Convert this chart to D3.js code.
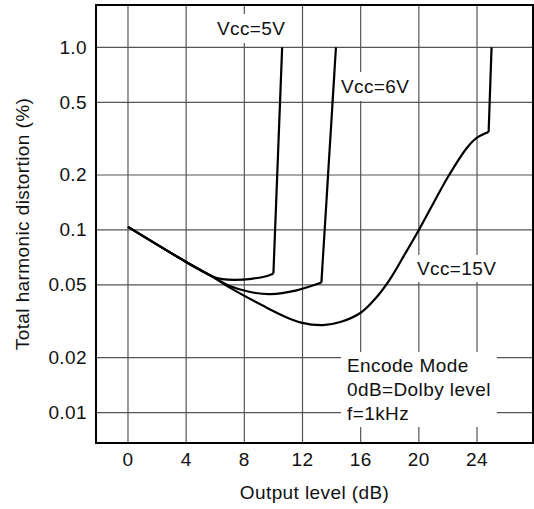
<!DOCTYPE html>
<html lang="en">
<head>
<meta charset="UTF-8">
<title>THD vs Output level</title>
<script src="https://d3js.org/d3.v7.min.js"></script>
<style>
    body { margin: 0; background: #fff; }
    text {
        font-family: "Liberation Sans", Arial, sans-serif;
        font-size: 19px;
        letter-spacing: 0.4px;
        fill: #111;
    }
    .grid { stroke: #555; stroke-width: 1.2; }
    .curve { fill: none; stroke: #000; stroke-width: 2.2; }
</style>
</head>
<body>
<svg width="534" height="509"></svg>
<script>
    // Output level (dB) ticks and THD (%) ticks
    const xTicks = [0, 4, 8, 12, 16, 20, 24];
    const yTicks = [0.01, 0.02, 0.05, 0.1, 0.2, 0.5, 1.0];
    const yTickLabels = ["0.01", "0.02", "0.05", "0.1", "0.2", "0.5", "1.0"];

    // Vcc=5V: smooth part, then the clipping rise
    const lvl5 = [0, 4, 5.8, 6.5, 7.3, 8.5, 9.5, 10.0];
    const thd5 = [0.104, 0.0668, 0.0556, 0.0538, 0.0533, 0.0540, 0.0558, 0.0578];
    const lvl5clip = [10.0, 10.6];
    const thd5clip = [0.0578, 1.0];

    // Vcc=6V
    const lvl6 = [0, 4, 5.8, 7.0, 8.4, 9.8, 11.6, 13.3];
    const thd6 = [0.104, 0.0668, 0.0556, 0.0493, 0.0457, 0.0445, 0.0467, 0.0515];
    const lvl6clip = [13.3, 14.3];
    const thd6clip = [0.0515, 1.0];

    // Vcc=15V
    const lvl15 = [0, 4, 5.8, 7.0, 9.3, 10.7, 11.9, 13.4, 14.6, 16.0, 17.0, 18.0, 19.0, 20.0, 21.0, 22.0, 23.3, 24.0, 24.8];
    const thd15 = [0.104, 0.0668, 0.0556, 0.0483, 0.0384, 0.0338, 0.0311, 0.0301, 0.0313, 0.0352, 0.0420, 0.0535, 0.0728, 0.100, 0.140, 0.195, 0.281, 0.320, 0.344];
    const lvl15clip = [24.8, 25.0];
    const thd15clip = [0.344, 1.0];

    const svg = d3.select("svg");

    const mLeft = 96, mRight = 533, mTop = 5, mBottom = 443;

    const x = d3.scaleLinear().domain([-2.2, 27.85]).range([mLeft, mRight]);
    const y = d3.scaleLog().domain([0.00681, 1.706]).range([mBottom, mTop]);

    // grid
    svg.append("g").selectAll("line").data(xTicks).join("line")
        .attr("class", "grid")
        .attr("x1", d => x(d)).attr("x2", d => x(d))
        .attr("y1", mTop).attr("y2", mBottom);
    svg.append("g").selectAll("line").data(yTicks).join("line")
        .attr("class", "grid")
        .attr("x1", mLeft).attr("x2", mRight)
        .attr("y1", d => y(d)).attr("y2", d => y(d));

    // white boxes behind the notes are drawn into this layer later
    const boxLayer = svg.append("g");

    // curves
    const line = d3.line().x(d => x(d[0])).y(d => y(d[1]));
    const smooth = d3.line().x(d => x(d[0])).y(d => y(d[1])).curve(d3.curveCatmullRom.alpha(0.5));
    const series = [
        [lvl5, thd5, lvl5clip, thd5clip],
        [lvl6, thd6, lvl6clip, thd6clip],
        [lvl15, thd15, lvl15clip, thd15clip]
    ];
    series.forEach(s => {
        svg.append("path").attr("class", "curve")
            .attr("d", smooth(d3.zip(s[0], s[1])));
        svg.append("path").attr("class", "curve")
            .attr("d", line(d3.zip(s[2], s[3])));
    });

    // frame
    svg.append("rect")
        .attr("x", mLeft).attr("y", mTop)
        .attr("width", mRight - mLeft).attr("height", mBottom - mTop)
        .attr("fill", "none").attr("stroke", "#000").attr("stroke-width", 2);

    // tick labels
    svg.append("g").selectAll("text").data(xTicks).join("text")
        .attr("x", d => x(d)).attr("y", 466)
        .attr("text-anchor", "middle")
        .text(d => d);
    svg.append("g").selectAll("text").data(yTicks).join("text")
        .attr("x", 87).attr("y", d => y(d) + 6.5)
        .attr("text-anchor", "end")
        .text((d, i) => yTickLabels[i]);

    // axis titles
    svg.append("text")
        .attr("x", (mLeft + mRight) / 2).attr("y", 499)
        .attr("text-anchor", "middle")
        .text("Output level (dB)");
    svg.append("text")
        .attr("transform", `translate(29,${(mTop + mBottom) / 2}) rotate(-90)`)
        .attr("text-anchor", "middle")
        .text("Total harmonic distortion (%)");

    // notes with white boxes
    function note(lines, tx, ty, lh, padX, padY) {
        const g = svg.append("g");
        lines.forEach((t, i) => {
            g.append("text").attr("x", tx).attr("y", ty + i * lh).text(t);
        });
        const b = g.node().getBBox();
        boxLayer.append("rect")
            .attr("x", b.x - padX).attr("y", b.y - padY)
            .attr("width", b.width + 2 * padX).attr("height", b.height + 2 * padY)
            .attr("fill", "#fff");
    }
    note(["Vcc=5V"], 217, 35, 0, 6, 4);
    note(["Vcc=6V"], 341, 93, 0, 5, 4);
    note(["Vcc=15V"], 417, 275, 0, 5, 3);
    note(["Encode Mode", "0dB=Dolby level", "f=1kHz"], 347, 372, 24, 6, 3);
</script>
</body>
</html>
